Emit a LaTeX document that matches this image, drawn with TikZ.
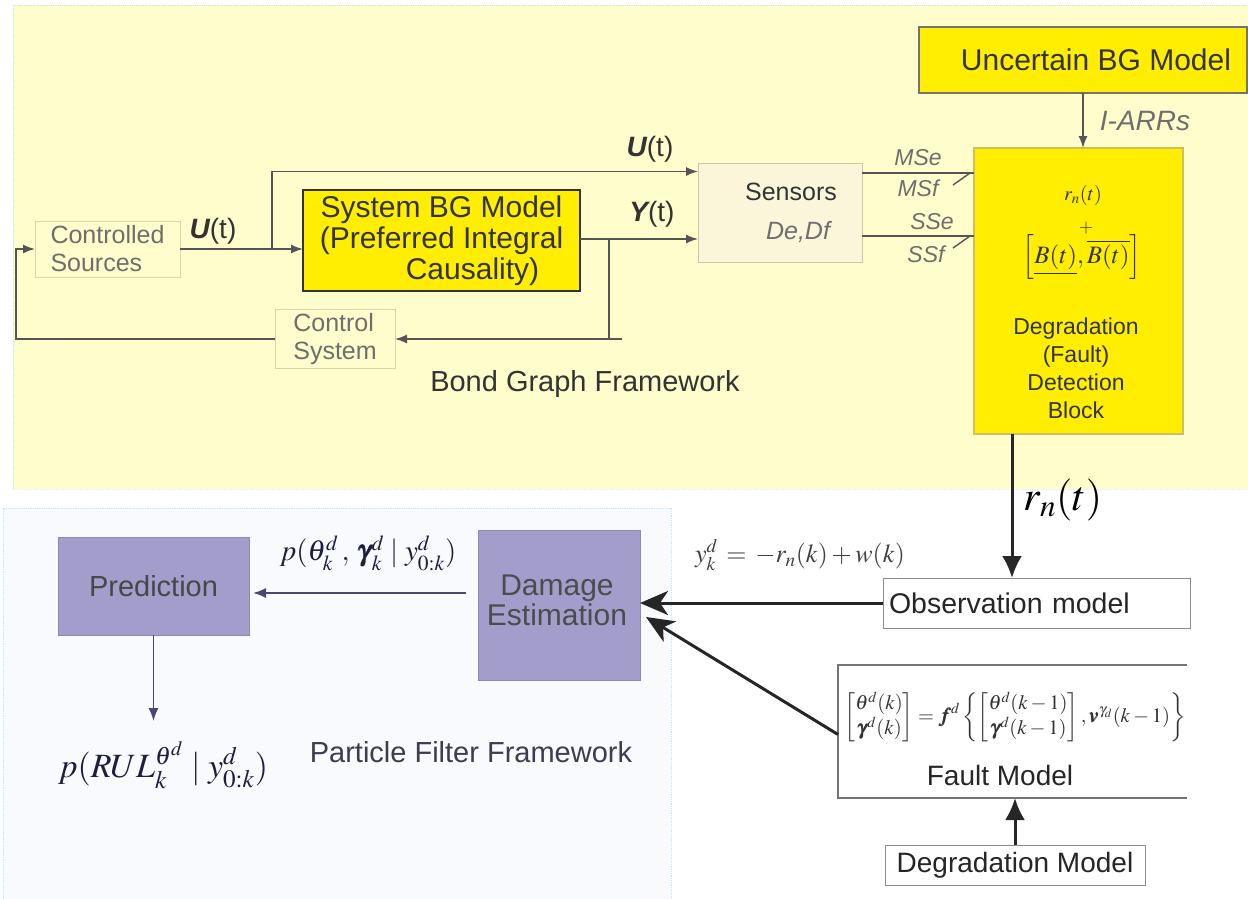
\documentclass[tikz,border=0pt]{standalone}
\usepackage{amsmath}
\usepackage{mathptmx}
\usepackage{bm}
\usepackage[no-math]{fontspec}
\setmainfont{Liberation Sans}
\usetikzlibrary{arrows.meta,calc}
\definecolor{ybg}{HTML}{FFFDCC}
\definecolor{bbg}{HTML}{F8FAFE}
\definecolor{yfill}{HTML}{FFEE00}
\definecolor{pfill}{HTML}{A39DCB}
\definecolor{pdraw}{HTML}{8C87B8}
\definecolor{sfill}{HTML}{FBF6DA}
\definecolor{sdraw}{HTML}{CFC6A5}
\definecolor{lgray}{HTML}{D8D5AE}
\definecolor{tgray}{HTML}{6E6E6E}
\definecolor{dgray}{HTML}{333333}
\definecolor{lcol}{HTML}{555555}
\definecolor{pline}{HTML}{4B4770}
\definecolor{navy}{HTML}{1E1E40}
\definecolor{pfcol}{HTML}{3C3C52}
\definecolor{ddraw}{HTML}{CCC060}
\newcommand{\fz}[2]{\fontsize{#1}{#2}\selectfont}
\begin{document}
\begin{tikzpicture}[x=1pt,y=-1pt,
  box/.style={rectangle, inner sep=0pt, outer sep=0pt},
  garr/.style={draw=lcol, line width=1.4pt, -{Latex[length=12pt,width=9pt]}},
  gline/.style={draw=lcol, line width=1.4pt},
  bigarr/.style={draw=black!85, line width=3pt, -{Latex[length=22pt,width=20pt]}},
  stl/.style={draw=black!85, line width=3pt, -{Stealth[length=28pt,width=24pt,inset=8pt]}},
  parr/.style={draw=pline, line width=1.6pt, -{Latex[length=13pt,width=10pt]}},
  lab/.style={inner sep=0pt},
]
\useasboundingbox (0,0) rectangle (1248,899);
% backgrounds
\fill[ybg] (13,5) rectangle (1248,489);
\draw[cyan!25, densely dotted, line width=0.8pt] (13,489) -- (13,5) -- (1248,5);
\draw[cyan!15, densely dotted, line width=0.8pt] (13,489) -- (1248,489);
\fill[bbg] (3,508) rectangle (671,899);
\draw[cyan!25, densely dotted, line width=0.8pt] (3,899) -- (3,508) -- (671,508) -- (671,899);

% top nodes
\node[box, draw=lgray, line width=1pt, fill=ybg, minimum width=145pt, minimum height=56pt, text=tgray, align=left, font=\fz{25}{28}] (cs) at (107.5,249) {Controlled\\Sources};
\node[box, draw=dgray, line width=2pt, fill=yfill, minimum width=277pt, minimum height=101pt, text=dgray, align=center, font=\fz{30}{31}] (bg) at (441.5,240.5) {System BG Model\\(Preferred Integral\\\hspace*{62pt}Causality)};
\node[box, draw=sdraw, line width=1pt, fill=sfill, minimum width=164pt, minimum height=99pt, text=dgray, align=center, font=\fz{25}{28}] (sens) at (780,212.5) {\hspace*{22pt}Sensors\\[11pt]\hspace*{36pt}\textcolor{tgray}{\itshape De,Df}};
\node[box, draw=lgray, line width=1pt, fill=ybg, minimum width=120pt, minimum height=59pt, text=tgray, align=left, font=\fz{25}{28}] (cont) at (335,339) {Control\\System};
\node[box, draw=black!55, line width=1.5pt, fill=yfill, minimum width=328pt, minimum height=66pt, text=dgray, font=\fz{30}{32}] (ubg) at (1083,60) {\hspace*{26pt}Uncertain BG Model};
\node[box, draw=ddraw, line width=1.2pt, fill=yfill, minimum width=209pt, minimum height=286pt] (ddb) at (1078.5,291) {};
\node[lab, text=dgray, font=\fz{20}{24}] (rn) at (1083,195) {$r_n(t)$};
\node[lab, text=dgray, font=\fz{18}{22}] (plus) at (1086,228) {$+$};
\node[lab, text=dgray, font=\fz{25}{28}] (bb) at (1082,257) {$\left[\underline{B(t)},\overline{B(t)}\right]$};
\node[lab, text=dgray, align=center, font=\fz{23}{28}] (ddbt) at (1076,368) {Degradation\\(Fault)\\Detection\\Block};

% top labels
\node[lab, text=dgray, font=\fz{28}{32}] (ut1) at (213,231) {{\bfseries\itshape U}(t)};
\node[lab, text=dgray, font=\fz{28}{32}] (ut2) at (650,149) {{\bfseries\itshape U}(t)};
\node[lab, text=dgray, font=\fz{28}{32}] (yt) at (652,214) {{\bfseries\itshape Y}(t)};
\node[lab, text=tgray, font=\fz{23}{26}\itshape] (mse) at (918,158) {MSe};
\node[lab, text=tgray, font=\fz{23}{26}\itshape] (msf) at (918,188) {MSf};
\node[lab, text=tgray, font=\fz{23}{26}\itshape] (sse) at (932,222) {SSe};
\node[lab, text=tgray, font=\fz{23}{26}\itshape] (ssf) at (926,254) {SSf};
\node[lab, text=tgray, font=\fz{28}{32}\itshape] (iarr) at (1145,121) {I-ARRs};
\node[lab, text=dgray, font=\fz{29}{32}] (bgf) at (585,384) {Bond Graph Framework};

% top connectors
\coordinate (b1) at (272,249);
\draw[garr] (cs.east) -- (cs.east -| bg.west);
\draw[garr] (b1) |- ($(sens.west)+(0,-41)$);
\coordinate (yb) at (609,239);
\draw[garr] (bg.east |- yb) -- (sens.west |- yb);
\coordinate (fb1) at (609,339);
\coordinate (fb2) at (622,339);
\draw[gline] (yb) -- (fb1);
\draw[garr] (fb2) -- (cont.east |- fb2);
\coordinate (lc) at (16,339);
\draw[garr] (cont.west) -- (lc) |- (cs.west);
\coordinate (ms) at (862,173);
\coordinate (ss) at (862,236);
\draw[gline] (sens.east |- ms) -- (ddb.west |- ms);
\draw[gline] ($(ddb.west |- ms)+(-4,0)$) -- ++(-17,12);
\draw[gline] (sens.east |- ss) -- (ddb.west |- ss);
\draw[gline] ($(ddb.west |- ss)+(-4,0)$) -- ++(-17,12);
\draw[garr] (ubg.south) -- (ubg.south |- ddb.north);

% bottom right nodes
\node[box, draw=black!45, line width=1pt, fill=white, text width=295pt, inner xsep=6pt, minimum height=50pt, text=black!85, align=left, font=\fz{28.5}{30}] (obs) at (1036.5,603) {Observation model};
\node[box, fill=white, minimum width=349pt, minimum height=133pt] (fault) at (1012.5,731.5) {};
\draw[black!55, line width=1.2pt] (fault.north east) -- (fault.north west) -- (fault.south west) -- (fault.south east);
\node[lab, text=black!80, font=\fz{20.5}{24}] (feq) at (1015,717) {$\begin{bmatrix}\theta^{d}(k)\\ \bm{\gamma}^{d}(k)\end{bmatrix} = \bm{f}^{d}\left\{\begin{bmatrix}\theta^{d}(k-1)\\ \bm{\gamma}^{d}(k-1)\end{bmatrix}, \bm{v}^{\gamma_d}(k-1)\right\}$};
\node[lab, text=black!85, font=\fz{28}{32}] (fm) at (1000,775) {Fault Model};
\node[box, draw=black!45, line width=1pt, fill=white, minimum width=260pt, minimum height=40pt, text=black!85, font=\fz{28}{32}] (deg) at (1015,865) {Degradation Model};
\node[lab, text=black, font=\fz{42}{46}] (rnl) at (1063,500) {$r_n(t)$};
\node[lab, text=black!75, font=\fz{26}{30}] (yeq) at (800,555) {$y_k^d \,=\, -r_n(k) + w(k)$};

% bottom left nodes
\node[box, draw=pdraw, line width=1pt, fill=pfill, minimum width=191pt, minimum height=98pt, text=black!72, font=\fz{29}{32}] (pred) at (153.5,586) {Prediction};
\node[box, draw=pdraw, line width=1pt, fill=pfill, minimum width=162pt, minimum height=150pt, text=black!70, align=center, font=\fz{30}{30}] (dam) at (559,605) {};
\node[lab, text=black!70, align=center, font=\fz{30}{30}] (damt) at (557,600) {Damage\\Estimation};
\node[lab, text=navy, font=\fz{29}{32}] (pth) at (368,553) {$p(\theta_k^d\,,\,\bm{\gamma}_k^d \;|\; y_{0:k}^d)$};
\node[lab, text=navy, font=\fz{34}{38}] (prul) at (163,765) {$p(RUL_k^{\theta^d} \;|\; y_{0:k}^d)$};
\node[lab, text=pfcol, font=\fz{29}{32}] (pff) at (471,752) {Particle Filter Framework};

% bottom connectors
\draw[bigarr] (ddb.south -| 1012,0) -- (obs.north -| 1012,0);
\draw[stl] (obs.west) -- (obs.west -| dam.east);
\draw[stl] ($(fault.west)+(0,3)$) -- ($(dam.east)+(6,12)$);
\draw[bigarr] (deg.north) -- (deg.north |- fault.south);
\coordinate (dp) at (466,593);
\draw[parr] (dp) -- ($(dp -| pred.east)+(4,0)$);
\coordinate (rulc) at (153.5,721);
\draw[parr] (pred.south) -- (rulc);
\end{tikzpicture}
\end{document}
